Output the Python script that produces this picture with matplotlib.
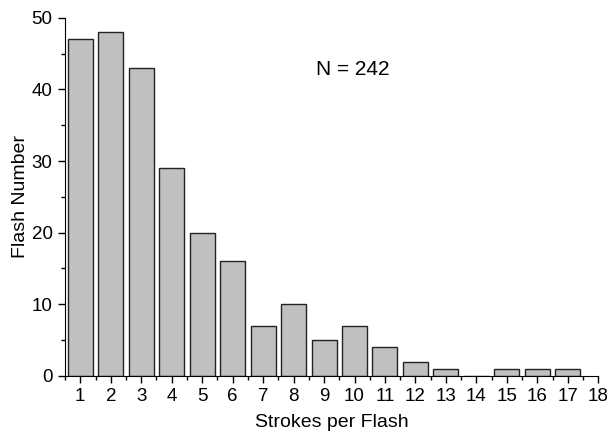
import matplotlib.pyplot as plt
from matplotlib.ticker import MultipleLocator

plt.rcParams['font.family'] = ['Liberation Sans', 'DejaVu Sans']

# Strokes per flash histogram
strokes = [1, 2, 3, 4, 5, 6, 7, 8, 9, 10, 11, 12, 13, 14, 15, 16, 17]
counts = [47, 48, 43, 29, 20, 16, 7, 10, 5, 7, 4, 2, 1, 0, 1, 1, 1]

fig = plt.figure(figsize=(6.08, 4.34), dpi=100)
ax = fig.add_axes([0.107, 0.134, 0.877, 0.825])

ax.bar(strokes, counts, width=0.82, color='#c0c0c0', edgecolor='#222222', linewidth=1.0)

ax.set_xlim(0.5, 18)
ax.set_ylim(0, 50)
ax.xaxis.set_major_locator(MultipleLocator(1))
ax.xaxis.set_minor_locator(MultipleLocator(0.5))
ax.yaxis.set_major_locator(MultipleLocator(10))
ax.yaxis.set_minor_locator(MultipleLocator(5))
ax.tick_params(which='both', direction='out', labelsize=13.5, width=1)
ax.tick_params(which='major', length=5, pad=4)
ax.tick_params(which='minor', length=3)

for s in ['top', 'right']:
    ax.spines[s].set_visible(False)

ax.set_xlabel('Strokes per Flash', fontsize=14, labelpad=6)
ax.set_ylabel('Flash Number', fontsize=14, labelpad=2)
ax.text(0.54, 0.855, 'N = 242', transform=ax.transAxes, ha='center', va='center', fontsize=15)

fig.savefig('out.png', dpi=100)
